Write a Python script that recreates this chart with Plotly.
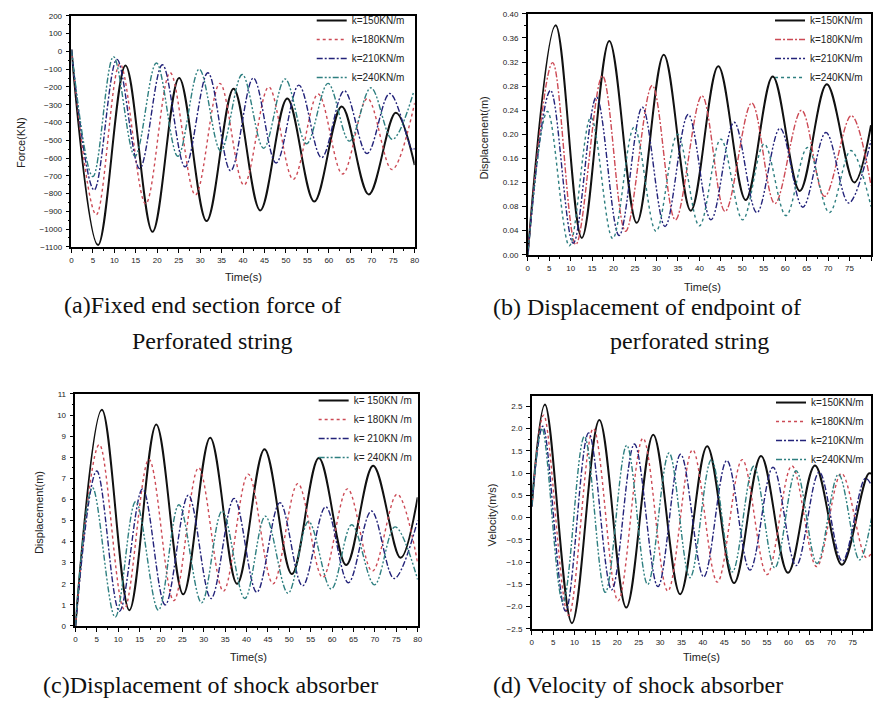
import plotly.graph_objects as go

W, H = 876, 705

# ---------------- data (extreme points) ----------------
# (a) Fixed end section force (KN)
a150_t = [0, 6.2, 12.6, 18.9, 25.1, 31.5, 37.8, 44.0, 50.3, 56.6, 63.0, 69.3, 75.6, 80]
a150_v = [10, -1090, -80, -1015, -150, -955, -210, -895, -265, -845, -310, -805, -345, -640]
a180_t = [0, 5.8, 11.3, 17.3, 23.0, 28.9, 34.6, 40.2, 46.0, 51.7, 57.5, 63.2, 69.0, 74.7, 80]
a180_v = [10, -919, -70, -858, -120, -808, -180, -752, -200, -720, -240, -690, -265, -665, -290]
a210_t = [0, 5.3, 10.6, 15.9, 21.2, 26.5, 31.8, 37.1, 42.4, 47.7, 53.0, 58.3, 63.6, 68.9, 74.2, 79.5, 80]
a210_v = [10, -780, -45, -660, -75, -650, -120, -672, -150, -628, -190, -598, -222, -575, -237, -555, -545]
a240_t = [0, 5.0, 9.8, 14.8, 19.8, 24.8, 29.8, 34.8, 39.8, 44.8, 49.8, 54.8, 59.8, 64.8, 69.8, 74.8, 79.8]
a240_v = [10, -705, -30, -590, -65, -590, -100, -560, -130, -545, -155, -520, -180, -505, -205, -495, -225]

# (b) Displacement of endpoint (m)
b150_t = [0, 6.5, 12.6, 19.0, 25.4, 31.7, 38.0, 44.4, 50.8, 57.1, 63.4, 69.7, 76.1, 80]
b150_v = [0, 0.381, 0.028, 0.355, 0.053, 0.332, 0.073, 0.313, 0.091, 0.296, 0.106, 0.283, 0.120, 0.215]
b180_t = [0, 5.8, 11.2, 17.4, 22.8, 29.0, 34.4, 40.6, 46.0, 52.2, 57.6, 63.8, 69.2, 75.4, 80]
b180_v = [0, 0.319, 0.017, 0.297, 0.039, 0.281, 0.058, 0.264, 0.072, 0.252, 0.085, 0.240, 0.097, 0.231, 0.115]
b210_t = [0, 5.3, 10.6, 16.0, 21.3, 26.7, 32.0, 37.4, 42.7, 48.1, 53.4, 58.8, 64.1, 69.5, 74.8, 80]
b210_v = [0, 0.273, 0.019, 0.262, 0.032, 0.245, 0.047, 0.233, 0.058, 0.220, 0.070, 0.210, 0.079, 0.203, 0.086, 0.190]
b240_t = [0, 4.6, 9.7, 14.7, 19.8, 24.8, 29.9, 34.9, 40.0, 45.0, 50.1, 55.1, 60.2, 65.2, 70.3, 75.3, 80]
b240_v = [0, 0.238, 0.015, 0.228, 0.027, 0.212, 0.039, 0.200, 0.048, 0.192, 0.058, 0.184, 0.065, 0.178, 0.070, 0.173, 0.080]

# (c) Displacement of shock absorber (m)
c150_t = [0, 6.2, 12.6, 18.9, 25.2, 31.5, 37.8, 44.2, 50.6, 56.9, 63.3, 69.6, 76.0, 80]
c150_v = [0, 10.25, 0.75, 9.55, 1.5, 8.92, 2.0, 8.38, 2.46, 7.96, 2.89, 7.6, 3.23, 6.1]
c180_t = [0, 5.6, 11.4, 17.2, 23.0, 28.8, 34.6, 40.4, 46.2, 52.0, 57.8, 63.6, 69.4, 75.2, 80]
c180_v = [0, 8.6, 0.8, 7.9, 1.2, 7.5, 1.65, 7.2, 2.0, 6.75, 2.3, 6.5, 2.6, 6.25, 3.0]
c210_t = [0, 5.0, 10.3, 15.7, 21.0, 26.4, 31.7, 37.1, 42.4, 47.8, 53.1, 58.5, 63.8, 69.2, 74.5, 80]
c210_v = [0, 7.35, 0.7, 6.5, 1.0, 6.2, 1.3, 6.05, 1.6, 5.85, 1.9, 5.65, 2.05, 5.45, 2.25, 5.0]
c240_t = [0, 4.0, 9.3, 14.1, 19.4, 24.2, 29.5, 34.3, 39.6, 44.4, 49.7, 54.5, 59.8, 64.6, 69.9, 74.7, 80]
c240_v = [0, 6.55, 0.42, 5.9, 0.75, 5.75, 1.1, 5.45, 1.3, 5.2, 1.55, 4.95, 1.75, 4.8, 1.95, 4.7, 2.2]

# (d) Velocity of shock absorber (m/s)
d150_t = [0, 3.1, 9.4, 15.8, 22.1, 28.4, 34.7, 41.0, 47.3, 53.6, 59.9, 66.2, 72.5, 78.8, 80]
d150_v = [0.25, 2.54, -2.37, 2.19, -2.02, 1.86, -1.72, 1.6, -1.47, 1.38, -1.24, 1.17, -1.06, 0.99, 0.95]
d180_t = [0, 2.8, 8.6, 14.4, 20.2, 26.0, 31.8, 37.6, 43.4, 49.2, 55.0, 60.8, 66.6, 72.4, 78.2, 80]
d180_v = [0.25, 2.3, -2.2, 2.0, -1.87, 1.78, -1.65, 1.52, -1.45, 1.3, -1.28, 1.16, -1.1, 0.99, -0.9, -0.7]
d210_t = [0, 2.6, 7.9, 13.3, 18.7, 24.0, 29.5, 34.8, 40.2, 45.6, 51.0, 56.4, 61.8, 67.2, 72.6, 78.0, 80]
d210_v = [0.25, 2.05, -2.1, 1.9, -1.62, 1.65, -1.55, 1.42, -1.33, 1.28, -1.18, 1.13, -1.08, 1.02, -0.98, 0.88, 0.6]
d240_t = [0, 2.4, 7.3, 12.3, 17.2, 22.2, 27.1, 32.1, 37.0, 42.0, 46.9, 51.9, 56.8, 61.8, 66.7, 71.7, 76.6, 80]
d240_v = [0.25, 2.0, -1.9, 1.82, -1.68, 1.62, -1.5, 1.45, -1.35, 1.3, -1.22, 1.15, -1.13, 1.05, -1.03, 0.97, -0.95, 0.3]

labels = ["k=150KN/m", "k=180KN/m", "k=210KN/m", "k=240KN/m"]
labels_c = ["k= 150KN /m", "k= 180KN /m", "k= 210KN /m", "k= 240KN /m"]

# ---------------- styling ----------------
BLACK = "#111111"
RED = "#cc4a55"
NAVY = "#23237a"
TEAL = "#2e7f80"
DOT = "dot"
DASHDOT = "6px,2px,2px,2px"
DDD = "6px,2px,2px,2px,2px,2px"

fig = go.Figure()

def px_x(x):
    return x / W

def px_y(y):
    return 1 - y / H

panels = [
    ("x", "y", "legend",
     [(a150_t, a150_v), (a180_t, a180_v), (a210_t, a210_v), (a240_t, a240_v)],
     [(BLACK, "solid", 2.0), (RED, DOT, 1.4), (NAVY, DASHDOT, 1.4), (TEAL, DDD, 1.4)], labels),
    ("x2", "y2", "legend2",
     [(b150_t, b150_v), (b180_t, b180_v), (b210_t, b210_v), (b240_t, b240_v)],
     [(BLACK, "solid", 2.0), (RED, DASHDOT, 1.4), (NAVY, DDD, 1.4), (TEAL, DOT, 1.4)], labels),
    ("x3", "y3", "legend3",
     [(c150_t, c150_v), (c180_t, c180_v), (c210_t, c210_v), (c240_t, c240_v)],
     [(BLACK, "solid", 2.0), (RED, DOT, 1.4), (NAVY, DASHDOT, 1.4), (TEAL, DDD, 1.4)], labels_c),
    ("x4", "y4", "legend4",
     [(d150_t, d150_v), (d180_t, d180_v), (d210_t, d210_v), (d240_t, d240_v)],
     [(BLACK, "solid", 2.0), (RED, DOT, 1.4), (NAVY, DASHDOT, 1.4), (TEAL, DDD, 1.4)], labels),
]

for xa, ya, lg, series, styles, labs in panels:
    for (t, v), (col, dash, w), name in zip(series, styles, labs):
        fig.add_trace(go.Scatter(
            x=t, y=v, mode="lines", name=name,
            line=dict(color=col, dash=dash, width=w, shape="spline", smoothing=1.0),
            xaxis=xa, yaxis=ya, legend=lg,
        ))

TICKFONT = dict(family="Liberation Sans, Arial, sans-serif", size=8, color="#222")

def xaxis(dom, anchor, rng=(0, 80)):
    return dict(domain=dom, anchor=anchor, range=list(rng), dtick=5, tick0=0,
                ticks="outside", ticklen=4, tickwidth=1, tickcolor="black",
                minor=dict(ticks="outside", ticklen=2, dtick=2.5, tickcolor="black"),
                showline=True, linecolor="black", linewidth=1.5, mirror=True,
                showgrid=False, zeroline=False, tickfont=TICKFONT, ticklabelstandoff=1)

def yaxis(dom, anchor, rng, dtick, mdtick, fmt=None):
    d = dict(domain=dom, anchor=anchor, range=list(rng), dtick=dtick,
             ticks="outside", ticklen=4, tickwidth=1, tickcolor="black",
             minor=dict(ticks="outside", ticklen=2, dtick=mdtick, tickcolor="black"),
             showline=True, linecolor="black", linewidth=1.5, mirror=True,
             showgrid=False, zeroline=False, tickfont=TICKFONT, ticklabelstandoff=2)
    if fmt:
        d["tickformat"] = fmt
    return d

LEGFONT = dict(family="Liberation Sans, Arial, sans-serif", size=10, color="#222")

def legend(xr, ytop):
    return dict(x=px_x(xr), y=px_y(ytop), xanchor="right", yanchor="top",
                bgcolor="rgba(0,0,0,0)", borderwidth=0, font=LEGFONT,
                tracegroupgap=0, itemwidth=30)

fig.update_layout(
    width=W, height=H,
    margin=dict(l=0, r=0, t=0, b=0),
    paper_bgcolor="white", plot_bgcolor="white",
    xaxis=xaxis([px_x(70), px_x(416)], "y"),
    yaxis=yaxis([px_y(246), px_y(12)], "x", (-1100, 200), 100, 50),
    xaxis2=xaxis([px_x(530), 1.0], "y2"),
    yaxis2=yaxis([px_y(254), px_y(10)], "x2", (0, 0.40), 0.04, 0.02, ".2f"),
    xaxis3=xaxis([px_x(74), px_x(419)], "y3"),
    yaxis3=yaxis([px_y(630), px_y(395)], "x3", (0, 11), 1, 0.5),
    xaxis4=xaxis([px_x(534), 1.0], "y4", (0, 79.3)),
    yaxis4=yaxis([px_y(633), px_y(397)], "x4", (-2.5, 2.73), 0.5, 0.25, ".1f"),
    legend=legend(411, 2),
    legend2=legend(873, 2),
    legend3=legend(419, 387),
    legend4=legend(874, 389),
    showlegend=True,
)

AXFONT = dict(family="Liberation Sans, Arial, sans-serif", size=11, color="#222")
CAPFONT = dict(family="Liberation Serif, Times New Roman, serif", size=24, color="#111")

ann = []
def add_text(x, y, text, font, angle=0):
    ann.append(dict(x=px_x(x), y=px_y(y), xref="paper", yref="paper", text=text,
                    showarrow=False, font=font, textangle=angle,
                    xanchor="center", yanchor="middle"))

# axis titles
add_text(19, 140, "Force(KN)", AXFONT, -90)
add_text(243, 277, "Time(s)", AXFONT)
add_text(486, 136, "Displacement(m)", AXFONT, -90)
add_text(706, 287, "Time(s)", AXFONT)
add_text(38, 515, "Displacement(m)", AXFONT, -90)
add_text(248, 661, "Time(s)", AXFONT)
add_text(494, 518, "Velocity(m/s)", AXFONT, -90)
add_text(705, 661, "Time(s)", AXFONT)

# captions
add_text(202, 305, "(a)Fixed end section force of", CAPFONT)
add_text(212, 341, "Perforated string", CAPFONT)
add_text(650, 307, "(b) Displacement of endpoint of", CAPFONT)
add_text(693, 341, "perforated string", CAPFONT)
add_text(210, 690, "(c)Displacement of shock absorber", CAPFONT)
add_text(641, 690, "(d) Velocity of shock absorber", CAPFONT)

fig.update_layout(annotations=ann)

fig.write_html("out.html",
               config={"displayModeBar": False},
               post_script="document.body.style.margin='0';document.body.style.overflow='hidden';")
